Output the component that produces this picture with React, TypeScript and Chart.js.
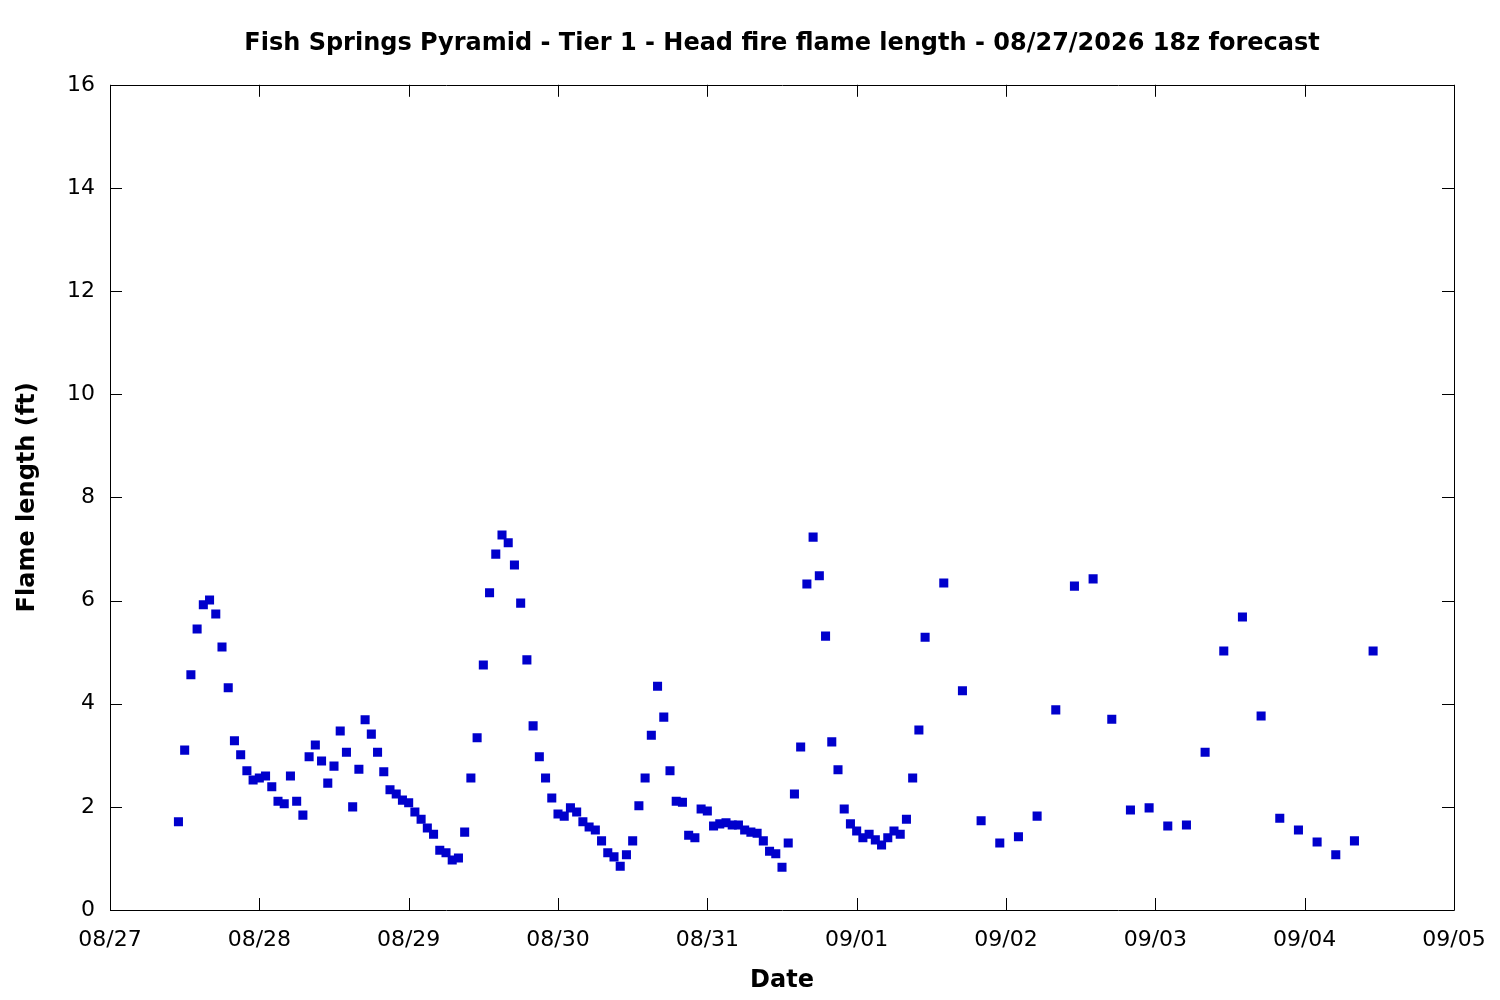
import React, { useEffect, useRef } from 'react';
import { Chart, registerables, Plugin } from 'chart.js';

Chart.register(...registerables);

// x tick labels, one per day (hours since 08/27 00:00)
const dateLabels = ['08/27', '08/28', '08/29', '08/30', '08/31', '09/01', '09/02', '09/03', '09/04', '09/05'];

// forecast hours since 08/27 00:00
const hours = [
  11, 12, 13, 14, 15, 16, 17, 18, 19, 20, 21, 22, 23,
  24, 25, 26, 27, 28, 29, 30, 31, 32, 33, 34, 35, 36, 37, 38, 39, 40, 41, 42, 43, 44, 45, 46, 47,
  48, 49, 50, 51, 52, 53, 54, 55, 56, 57, 58, 59, 60, 61, 62, 63, 64, 65, 66, 67, 68, 69, 70, 71,
  72, 73, 74, 75, 76, 77, 78, 79, 80, 81, 82, 83, 84, 85, 86, 87, 88, 89, 90, 91, 92, 93, 94, 95,
  96, 97, 98, 99, 100, 101, 102, 103, 104, 105, 106, 107, 108, 109, 110, 111, 112, 113, 114, 115, 116, 117, 118, 119,
  120, 121, 122, 123, 124, 125, 126, 127, 128, 129, 130, 131,
  134, 137, 140, 143, 146, 149, 152, 155, 158, 161, 164, 167,
  170, 173, 176, 179, 182, 185, 188, 191, 194, 197, 200, 203,
];

// head fire flame length (ft)
const flameLength = [
  1.71, 3.10, 4.56, 5.45, 5.92, 6.01, 5.74, 5.10, 4.31, 3.28, 3.01, 2.70, 2.52,
  2.56, 2.60, 2.39, 2.11, 2.06, 2.60, 2.11, 1.84, 2.97, 3.20, 2.89, 2.46, 2.79, 3.47, 3.06, 2.00, 2.73, 3.69, 3.41, 3.06, 2.68, 2.33, 2.25, 2.13,
  2.08, 1.90, 1.76, 1.59, 1.47, 1.16, 1.11, 0.97, 1.01, 1.51, 2.56, 3.34, 4.75, 6.15, 6.90, 7.27, 7.12, 6.69, 5.95, 4.85, 3.57, 2.97, 2.56, 2.17,
  1.86, 1.82, 1.98, 1.90, 1.71, 1.61, 1.55, 1.34, 1.11, 1.03, 0.85, 1.07, 1.34, 2.02, 2.56, 3.39, 4.34, 3.74, 2.70, 2.11, 2.09, 1.45, 1.40, 1.96,
  1.92, 1.63, 1.67, 1.69, 1.65, 1.65, 1.55, 1.51, 1.49, 1.34, 1.14, 1.09, 0.83, 1.30, 2.25, 3.16, 6.32, 7.23, 6.48, 5.31, 3.26, 2.72, 1.96, 1.67,
  1.53, 1.40, 1.47, 1.36, 1.26, 1.40, 1.53, 1.47, 1.76, 2.56, 3.49, 5.29,
  6.34, 4.25, 1.73, 1.30, 1.42, 1.82, 3.88, 6.28, 6.42, 3.70, 1.94, 1.98,
  1.63, 1.65, 3.06, 5.02, 5.68, 3.76, 1.78, 1.55, 1.32, 1.07, 1.34, 5.02,
];

// gnuplot-style frame with inward ticks on all four sides
const frameTicks: Plugin = {
  id: 'frameTicks',
  afterDraw(chart) {
    const { ctx, chartArea: a } = chart;
    const xs = chart.scales.x;
    const ys = chart.scales.y;
    const len = 12;
    ctx.save();
    ctx.strokeStyle = '#000';
    ctx.lineWidth = 1;
    ctx.beginPath();
    ctx.rect(Math.round(a.left) + 0.5, Math.round(a.top) + 0.5, Math.round(a.right - a.left), Math.round(a.bottom - a.top));
    xs.ticks.forEach((t) => {
      const px = Math.round(xs.getPixelForValue(t.value)) + 0.5;
      ctx.moveTo(px, a.bottom);
      ctx.lineTo(px, a.bottom - len);
      ctx.moveTo(px, a.top);
      ctx.lineTo(px, a.top + len);
    });
    ys.ticks.forEach((t) => {
      const py = Math.round(ys.getPixelForValue(t.value)) + 0.5;
      ctx.moveTo(a.left, py);
      ctx.lineTo(a.left + len, py);
      ctx.moveTo(a.right, py);
      ctx.lineTo(a.right - len, py);
    });
    ctx.stroke();
    ctx.restore();
  },
};

const FlameLengthChart: React.FC = () => {
  const canvasRef = useRef<HTMLCanvasElement | null>(null);

  useEffect(() => {
    document.body.style.margin = '0';
    if (!canvasRef.current) return;
    const ctx = canvasRef.current.getContext('2d');
    if (!ctx) return;

    Chart.defaults.font.family = 'DejaVu Sans';
    Chart.defaults.color = '#000';

    const chart = new Chart(ctx, {
      type: 'scatter',
      data: {
        datasets: [
          {
            label: 'Flame length',
            data: hours.map((h, i) => ({ x: h, y: flameLength[i] })),
            pointStyle: 'rect',
            pointRadius: 6.4,
            pointHoverRadius: 6.4,
            borderWidth: 0,
            backgroundColor: '#0000cc',
          },
        ],
      },
      options: {
        animation: false,
        responsive: false,
        layout: { padding: { left: 0, right: 46, top: 0, bottom: 0 } },
        plugins: {
          legend: { display: false },
          tooltip: { enabled: false },
          title: {
            display: true,
            fullSize: false,
            text: 'Fish Springs Pyramid - Tier 1 - Head fire flame length - 08/27/2026 18z forecast',
            font: { size: 24, weight: 'bold' },
            padding: { top: 29, bottom: 27 },
          },
        },
        scales: {
          x: {
            type: 'linear',
            min: 0,
            max: 216,
            grid: { display: false, drawTicks: false },
            border: { display: false },
            ticks: {
              stepSize: 24,
              autoSkip: false,
              maxRotation: 0,
              padding: 17,
              font: { size: 22 },
              callback: (v) => dateLabels[Math.round(Number(v) / 24)] ?? '',
            },
            title: {
              display: true,
              text: 'Date',
              font: { size: 24, weight: 'bold' },
              padding: { top: 0, bottom: 5 },
            },
            afterFit: (s) => {
              s.height = 90;
              s.paddingLeft = 0;
              s.paddingRight = 0;
            },
          },
          y: {
            min: 0,
            max: 16,
            grid: { display: false, drawTicks: false },
            border: { display: false },
            ticks: {
              stepSize: 2,
              padding: 15,
              font: { size: 22 },
            },
            title: {
              display: true,
              text: 'Flame length (ft)',
              font: { size: 24, weight: 'bold' },
              padding: { top: 13, bottom: 0 },
            },
            afterFit: (s) => {
              s.width = 110;
            },
          },
        },
      },
      plugins: [frameTicks],
    });

    return () => {
      chart.destroy();
    };
  }, []);

  return <canvas ref={canvasRef} width={1500} height={1000} style={{ display: 'block' }} />;
};

export default function App() {
  return <FlameLengthChart />;
}
